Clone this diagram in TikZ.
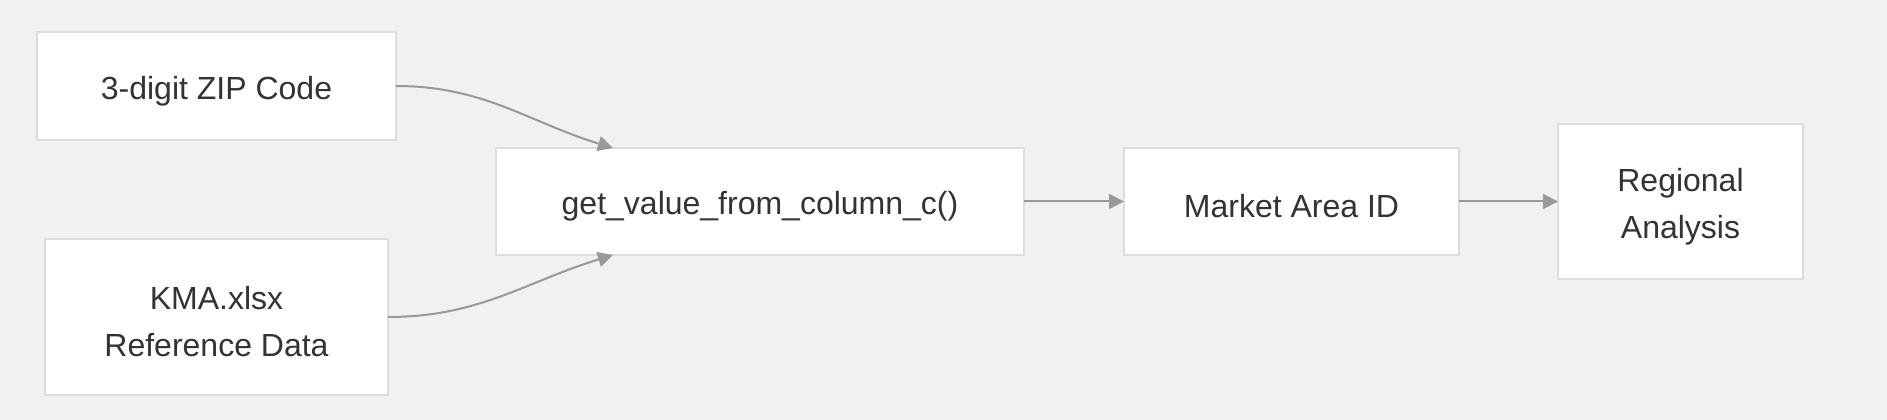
\documentclass[tikz,border=0pt]{standalone}
\usepackage{fontspec}
\setmainfont{Liberation Sans}
\usepackage{xcolor}
\usetikzlibrary{positioning, arrows.meta}

\definecolor{bgpaper}{HTML}{F2F1EF}
\definecolor{boxline}{HTML}{DDDDDD}
\definecolor{arrowgray}{HTML}{999999}
\definecolor{textdark}{HTML}{333333}

% raises the first line's height so the text sits a little lower
\newcommand{\topstrut}{\rule{0pt}{33pt}}

\begin{document}
\begin{tikzpicture}[
  x=1pt, y=1pt,
  flowbox/.style = {
    rectangle, draw=boxline, fill=white, line width=1.5pt,
    align=center, outer sep=0pt, inner sep=0pt,
    text=textdark,
    font=\fontsize{32}{47}\selectfont},
  arr/.style = {-{Triangle[length=15pt,width=15pt]},
    draw=arrowgray, line width=2pt}
]

% background and frame
\fill[bgpaper] (0,0) rectangle (1887,420);
\useasboundingbox (0,0) rectangle (1887,420);

%── Input nodes ──────────────────────────────────────────────────
\node[flowbox, minimum width=359pt, minimum height=108pt] (ZIP)
  at (216.5, 334) {\topstrut 3-digit ZIP Code};

\node[flowbox, minimum width=343pt, minimum height=156pt] (KMA)
  at (216.5, 103) {\topstrut KMA.xlsx\\Reference Data};

%── Lookup chain ─────────────────────────────────────────────────
\node[flowbox, minimum width=528pt, minimum height=107pt] (GVC)
  at (760, 218.5) {\topstrut get\_value\_from\_column\_c()};

\node[flowbox, minimum width=335pt, minimum height=107pt,
  right=100pt of GVC] (MAI) {\topstrut Market Area ID};

\node[flowbox, minimum width=245pt, minimum height=155pt,
  right=99pt of MAI] (RA) {\topstrut Regional\\Analysis};

%── Arrows ───────────────────────────────────────────────────────
\draw[arr] (ZIP.east) to[out=0, in=163] (GVC.160);
\draw[arr] (KMA.east) to[out=0, in=197] (GVC.200);
\draw[arr] (GVC) -- (MAI);
\draw[arr] (MAI) -- (RA);

\end{tikzpicture}
\end{document}
